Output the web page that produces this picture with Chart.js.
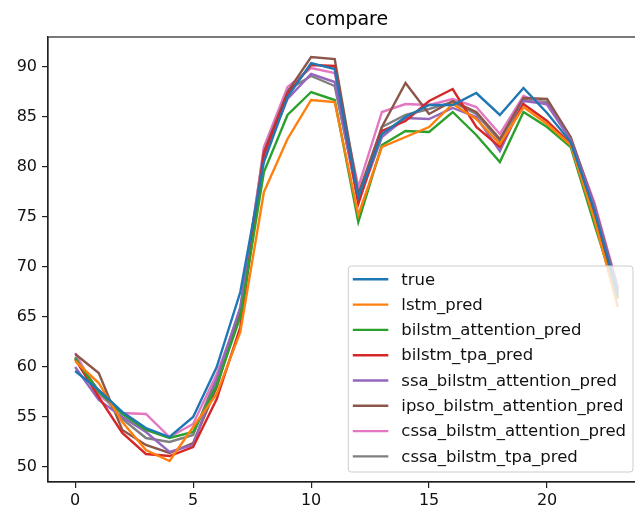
<!DOCTYPE html>
<html><head><meta charset="utf-8">
<script src="https://cdn.jsdelivr.net/npm/chart.js@4"></script>
<style>
html,body{margin:0;padding:0;overflow:hidden;background:#fff;width:635px;height:510px}
#wrap{width:660px;height:510px;position:relative}
</style></head><body><div id="wrap"><canvas id="c" width="660" height="510"></canvas></div>
<script>
const steps = [0,1,2,3,4,5,6,7,8,9,10,11,12,13,14,15,16,17,18,19,20,21,22,23];
const xTicks = [0,5,10,15,20];
const yTicks = [50,55,60,65,70,75,80,85,90];
const seriesNames = ["true","lstm_pred","bilstm_attention_pred","bilstm_tpa_pred","ssa_bilstm_attention_pred","ipso_bilstm_attention_pred","cssa_bilstm_attention_pred","cssa_bilstm_tpa_pred"];
const trueVals   = [59.6,57.7,55.5,53.9,53.0,55.0,60.0,67.5,80.5,87.0,90.4,89.8,77.0,83.3,85.0,86.2,86.2,87.4,85.2,87.9,85.4,82.5,75.7,67.3];
const lstmVals   = [60.6,58.4,54.5,51.7,50.6,54.0,57.3,63.5,77.5,82.8,86.7,86.5,75.2,82.0,83.0,84.0,86.3,84.8,82.3,86.0,84.3,82.2,74.8,66.0];
const bilstmAttn = [60.9,57.5,55.3,53.7,52.9,53.5,58.2,65.0,79.5,85.2,87.5,86.7,74.5,82.2,83.6,83.5,85.5,83.2,80.5,85.5,84.0,82.0,74.3,66.8];
const bilstmTpa  = [60.8,57.0,53.4,51.3,51.1,52.0,56.8,64.0,81.3,87.3,90.2,90.1,76.3,83.6,84.6,86.6,87.8,84.0,82.0,86.3,84.6,82.3,75.2,67.0];
const ssaAttn    = [60.0,56.7,55.0,53.5,51.5,52.2,58.8,66.0,81.0,86.8,89.3,88.5,76.5,83.0,84.9,84.8,85.9,85.0,81.6,86.6,86.3,82.7,76.1,67.5];
const ipsoAttn   = [61.3,59.4,53.7,52.2,51.4,52.4,58.0,65.5,81.5,87.5,91.0,90.8,77.3,84.0,88.4,85.3,86.6,85.5,82.8,86.9,86.8,83.0,76.2,67.8];
const cssaAttn   = [61.4,57.2,55.4,55.3,53.0,54.3,59.3,65.5,82.0,88.0,89.9,89.4,78.0,85.5,86.3,86.2,86.8,86.0,83.3,87.1,86.2,82.8,76.5,68.0];
const cssaTpa    = [61.0,57.6,54.8,52.9,52.5,53.2,59.0,65.8,81.8,87.7,89.1,88.1,76.7,84.0,85.2,85.8,86.5,85.3,82.6,86.7,86.5,82.9,76.3,67.5];
const allSeries = [trueVals,lstmVals,bilstmAttn,bilstmTpa,ssaAttn,ipsoAttn,cssaAttn,cssaTpa];
const colors = ["#1f77b4","#ff7f0e","#2ca02c","#d62728","#9467bd","#8c564b","#e377c2","#7f7f7f"];
const FONT = "'DejaVu Sans', sans-serif";

const frameAndLegend = {
  id:'frameAndLegend',
  afterDraw(chart){
    const ctx = chart.ctx, a = chart.chartArea;
    ctx.save();
    ctx.strokeStyle = '#222'; ctx.lineWidth = 1.2;
    ctx.strokeRect(a.left, a.top, a.right - a.left, a.bottom - a.top);
    ctx.fillStyle = '#000';
    ctx.font = '19px ' + FONT;
    ctx.textAlign = 'center'; ctx.textBaseline = 'alphabetic';
    ctx.fillText('compare', (a.left + a.right) / 2, 25);
    ctx.font = '16.5px ' + FONT;
    const ds = chart.data.datasets;
    let maxW = 0;
    ds.forEach(d => { maxW = Math.max(maxW, ctx.measureText(d.label).width); });
    const rowH = 25.3;
    const w = 53 + maxW + 7;
    const h = 206;
    const x0 = a.right - 12 - w;
    const y0 = a.bottom - 10 - h;
    ctx.fillStyle = 'rgba(255,255,255,0.8)';
    ctx.strokeStyle = '#cccccc'; ctx.lineWidth = 1;
    ctx.beginPath();
    if (ctx.roundRect) ctx.roundRect(x0, y0, w, h, 3); else ctx.rect(x0, y0, w, h);
    ctx.fill(); ctx.stroke();
    ctx.textAlign = 'left'; ctx.textBaseline = 'middle';
    ds.forEach((d, i) => {
      const cy = y0 + 13.3 + i * rowH;
      ctx.strokeStyle = d.borderColor; ctx.lineWidth = 2.4;
      ctx.beginPath(); ctx.moveTo(x0 + 4.5, cy); ctx.lineTo(x0 + 40, cy); ctx.stroke();
      ctx.fillStyle = '#111';
      ctx.fillText(d.label, x0 + 53, cy + 1);
    });
    ctx.restore();
  }
};

new Chart(document.getElementById('c'), {
  type: 'line',
  data: {
    datasets: allSeries.map((vals, k) => ({
      label: seriesNames[k],
      data: vals.map((v, i) => ({x: steps[i], y: v})),
      borderColor: colors[k],
      backgroundColor: colors[k],
      borderWidth: 2.4,
      pointRadius: 0,
      tension: 0,
      fill: false
    }))
  },
  options: {
    responsive: false,
    animation: false,
    devicePixelRatio: 1,
    layout: { padding: { left: 0, top: 37, right: 15, bottom: 0 } },
    plugins: { legend: { display: false }, title: { display: false }, tooltip: { enabled: false } },
    scales: {
      x: {
        type: 'linear', min: -1.15, max: 24.15,
        afterBuildTicks: s => { s.ticks = xTicks.map(v => ({value: v})); },
        afterFit: s => { s.height = 28; },
        grid: { drawOnChartArea: false, drawTicks: true, tickLength: 6, color: '#222', lineWidth: 1.2 },
        border: { display: true, color: '#222', width: 1.2 },
        ticks: { color: '#111', font: { family: FONT, size: 16 }, padding: 3, maxRotation: 0, autoSkip: false }
      },
      y: {
        type: 'linear', min: 48.5, max: 93,
        afterBuildTicks: s => { s.ticks = yTicks.map(v => ({value: v})); },
        afterFit: s => { s.width = 48; },
        grid: { drawOnChartArea: false, drawTicks: true, tickLength: 6, color: '#222', lineWidth: 1.2 },
        border: { display: true, color: '#222', width: 1.2 },
        ticks: { color: '#111', font: { family: FONT, size: 16 }, padding: 5, autoSkip: false }
      }
    }
  },
  plugins: [frameAndLegend]
});
</script></body></html>
